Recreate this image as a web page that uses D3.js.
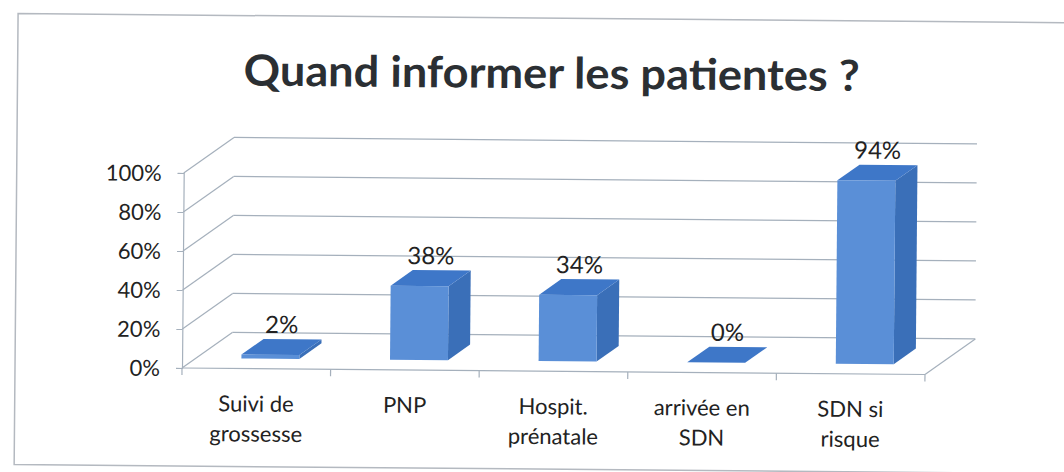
<!DOCTYPE html>
<html>
<head>
<meta charset="utf-8">
<script src="https://cdn.jsdelivr.net/npm/d3@7"></script>
<style>
  body { margin: 0; background: #fff; }
  text { font-family: Lato, "Open Sans", sans-serif; fill: #222; }
</style>
</head>
<body>
<svg id="canvas" width="1064" height="472"></svg>
<script>
// data
let categories = [['Suivi de', 'grossesse'], ['PNP'], ['Hospit.', 'prénatale'], ['arrivée en', 'SDN'], ['SDN si', 'risque']]
let values = [2, 38, 34, 0, 94]
let valueLabels = ['2%', '38%', '34%', '0%', '94%']
let yTicks = [0, 20, 40, 60, 80, 100]

let canvas = d3.select('#canvas')

// the scan is slightly tilted, so the whole chart is too
let g = canvas.append('g').attr('transform', 'rotate(0.5, 182, 368)')

// outer frame
g.append('path')
  .attr('d', 'M1070,15 L15,15 L15,466 L1070,466')
  .attr('fill', 'none')
  .attr('stroke', '#b4b9c0')
  .attr('stroke-width', 1.5)

g.append('text')
  .attr('x', 549)
  .attr('y', 85)
  .attr('text-anchor', 'middle')
  .attr('textLength', 616)
  .attr('lengthAdjust', 'spacingAndGlyphs')
  .style('font-size', '43px')
  .style('font-weight', 'bold')
  .style('fill', '#2b2f33')
  .text('Quand informer les patientes ?')

let left = 182, right = 925, base = 368
let depthX = 50, depthY = -36

let x = d3.scaleBand()
  .domain(d3.range(categories.length))
  .range([left, right])
  .paddingInner(0.61)
  .paddingOuter(0.305)

let y = d3.scaleLinear().domain([0, 100]).range([base, 173])

let gridColor = '#a5b0bc'

// back wall gridlines
g.selectAll('.back')
  .data(yTicks)
  .enter()
  .append('line')
  .attr('x1', left + depthX)
  .attr('x2', right + depthX)
  .attr('y1', d => y(d) + depthY)
  .attr('y2', d => y(d) + depthY)
  .attr('stroke', gridColor)
  .attr('stroke-width', 1.2)

// side wall diagonals
g.selectAll('.side')
  .data(yTicks)
  .enter()
  .append('line')
  .attr('x1', left)
  .attr('x2', left + depthX)
  .attr('y1', d => y(d))
  .attr('y2', d => y(d) + depthY)
  .attr('stroke', gridColor)
  .attr('stroke-width', 1.2)

// floor right edge
g.append('line')
  .attr('x1', right).attr('y1', base)
  .attr('x2', right + depthX).attr('y2', base + depthY)
  .attr('stroke', gridColor)
  .attr('stroke-width', 1.2)

// y axis
let yAxis = d3.axisLeft(y)
  .tickValues(yTicks)
  .tickSize(6)
  .tickPadding(16)
  .tickFormat(d => d + '%')

g.append('g')
  .attr('transform', `translate(${left},0)`)
  .call(yAxis)
  .call(a => a.select('.domain').attr('stroke', gridColor).attr('stroke-width', 1.2))
  .call(a => a.selectAll('.tick line').attr('stroke', gridColor))
  .call(a => a.selectAll('.tick text').style('font-size', '22px').attr('dy', '0.35em'))

// x axis line and ticks at category boundaries
g.append('line')
  .attr('x1', left).attr('x2', right)
  .attr('y1', base).attr('y2', base)
  .attr('stroke', gridColor)
  .attr('stroke-width', 1.2)

g.selectAll('.xtick')
  .data(d3.range(categories.length + 1))
  .enter()
  .append('line')
  .attr('x1', i => left + i * x.step())
  .attr('x2', i => left + i * x.step())
  .attr('y1', base)
  .attr('y2', base + 7)
  .attr('stroke', gridColor)
  .attr('stroke-width', 1.2)

// category labels
let labels = g.selectAll('.cat')
  .data(categories)
  .enter()
  .append('text')
  .attr('text-anchor', 'middle')
  .style('font-size', '22px')

labels.selectAll('tspan')
  .data((d, i) => d.map(t => ({ t: t, i: i })))
  .enter()
  .append('tspan')
  .attr('x', d => x(d.i) + x.bandwidth() / 2)
  .attr('y', (d, j) => 411 + j * 30)
  .text(d => d.t)

// 3d bars, sitting in the middle of the depth
let f0 = 0.28, f1 = 0.72
let bx = i => x(i) + depthX * f0
let by = v => y(v) + depthY * f0
let dx = depthX * (f1 - f0), dy = depthY * (f1 - f0)
let w = x.bandwidth()

let bars = g.selectAll('.bar')
  .data(values)
  .enter()
  .append('g')

// right side
bars.append('path')
  .attr('d', (v, i) => {
    let x1 = bx(i) + w, yt = by(v), yb = by(0)
    return `M${x1},${yt} L${x1 + dx},${yt + dy} L${x1 + dx},${yb + dy} L${x1},${yb} Z`
  })
  .attr('fill', '#3a6fb8')

// top
bars.append('path')
  .attr('d', (v, i) => {
    let x0 = bx(i), yt = by(v)
    return `M${x0},${yt} L${x0 + w},${yt} L${x0 + w + dx},${yt + dy} L${x0 + dx},${yt + dy} Z`
  })
  .attr('fill', '#3e77c8')

// front
bars.append('rect')
  .attr('x', (v, i) => bx(i))
  .attr('y', v => by(v))
  .attr('width', w)
  .attr('height', v => by(0) - by(v))
  .attr('fill', '#5a8fd7')

// value labels
bars.append('text')
  .attr('x', (v, i) => bx(i) + w / 2 + dx / 2)
  .attr('y', v => by(v) + dy - 6)
  .attr('text-anchor', 'middle')
  .style('font-size', '24px')
  .text((v, i) => valueLabels[i])
</script>
</body>
</html>
